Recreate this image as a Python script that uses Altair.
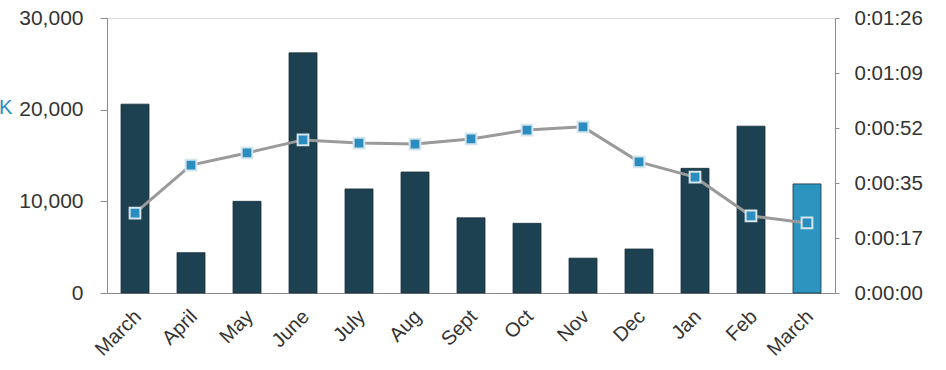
import altair as alt
import pandas as pd

months = ["March", "April", "May", "June", "July", "Aug", "Sept", "Oct", "Nov", "Dec", "Jan", "Feb", "March "]
visits = [20600, 4400, 10000, 26200, 11350, 13200, 8200, 7600, 3800, 4800, 13600, 18200, 11900]
avg_seconds = [25.1, 40.2, 44.0, 48.1, 47.1, 46.8, 48.4, 51.2, 52.2, 41.2, 36.4, 24.2, 22.0]
highlight = ["past"] * 12 + ["current"]
left_ticks = [0, 10000, 20000, 30000]
right_ticks = [0, 17.28, 34.56, 51.84, 69.12, 86.4]

df = pd.DataFrame({"month": months, "visits": visits, "secs": avg_seconds, "hl": highlight})

FONT = "Liberation Sans"
xenc = alt.X("month:N", sort=months, title=None,
             scale=alt.Scale(paddingInner=0.5, paddingOuter=0.25),
             axis=alt.Axis(labelAngle=-45, labelAlign="right", labelBaseline="top",
                           labelFontSize=20, labelFont=FONT, labelColor="#333333",
                           ticks=False, domainColor="#8a8a8a", labelPadding=13,
                           labelOffset=-4,
                           labelExpr="trim(datum.label)"))

bars = alt.Chart(df).mark_bar(stroke="#17303c", strokeWidth=0.8).encode(
    x=xenc,
    y=alt.Y("visits:Q", title=None, scale=alt.Scale(domain=[0, 30000]),
            axis=alt.Axis(values=left_ticks, grid=False, orient="left",
                          labelExpr="format(datum.value, ',.0f')",
                          labelFontSize=21, labelFont=FONT, labelColor="#333333",
                          domainColor="#8a8a8a", tickColor="#8a8a8a", tickSize=7,
                          labelPadding=17)),
    color=alt.Color("hl:N", scale=alt.Scale(domain=["past", "current"], range=["#1e4152", "#2c94bf"]), legend=None),
)

yr = alt.Y("secs:Q", title=None, scale=alt.Scale(domain=[0, 86.4]),
           axis=alt.Axis(values=right_ticks, grid=False, orient="right",
                         labelFontSize=20.5, labelFont=FONT, labelColor="#333333",
                         domainColor="#8a8a8a", tickColor="#8a8a8a", tickSize=4,
                         labelPadding=15,
                         labelExpr="floor(round(datum.value)/3600) + ':' + (floor(round(datum.value)/60)%60 < 10 ? '0' : '') + floor(round(datum.value)/60)%60 + ':' + (round(datum.value)%60 < 10 ? '0' : '') + round(datum.value)%60"))

line = alt.Chart(df).mark_line(color="#9a9a9a", strokeWidth=3).encode(x=xenc, y=yr)
pts = alt.Chart(df).mark_point(shape="square", filled=True, size=115, fill="#2a8cbf",
                               stroke="#d5e5ec", strokeWidth=2, opacity=1).encode(x=xenc, y=yr)

ktext = alt.Chart(pd.DataFrame({"t": ["K"]})).mark_text(
    align="left", baseline="middle", fontSize=20, font=FONT, color="#2a8cbf"
).encode(text="t:N", x=alt.value(-108), y=alt.value(90))

chart = alt.layer(bars, alt.layer(line, pts), ktext).resolve_scale(y="independent").properties(
    width=728, height=275,
    autosize=alt.AutoSizeParams(type="none"),
    padding={"left": 107, "top": 18, "right": 111, "bottom": 77},
).configure_view(stroke=None).configure(background="white")

chart.save("out.html", embed_options={"renderer": "svg", "actions": False})
